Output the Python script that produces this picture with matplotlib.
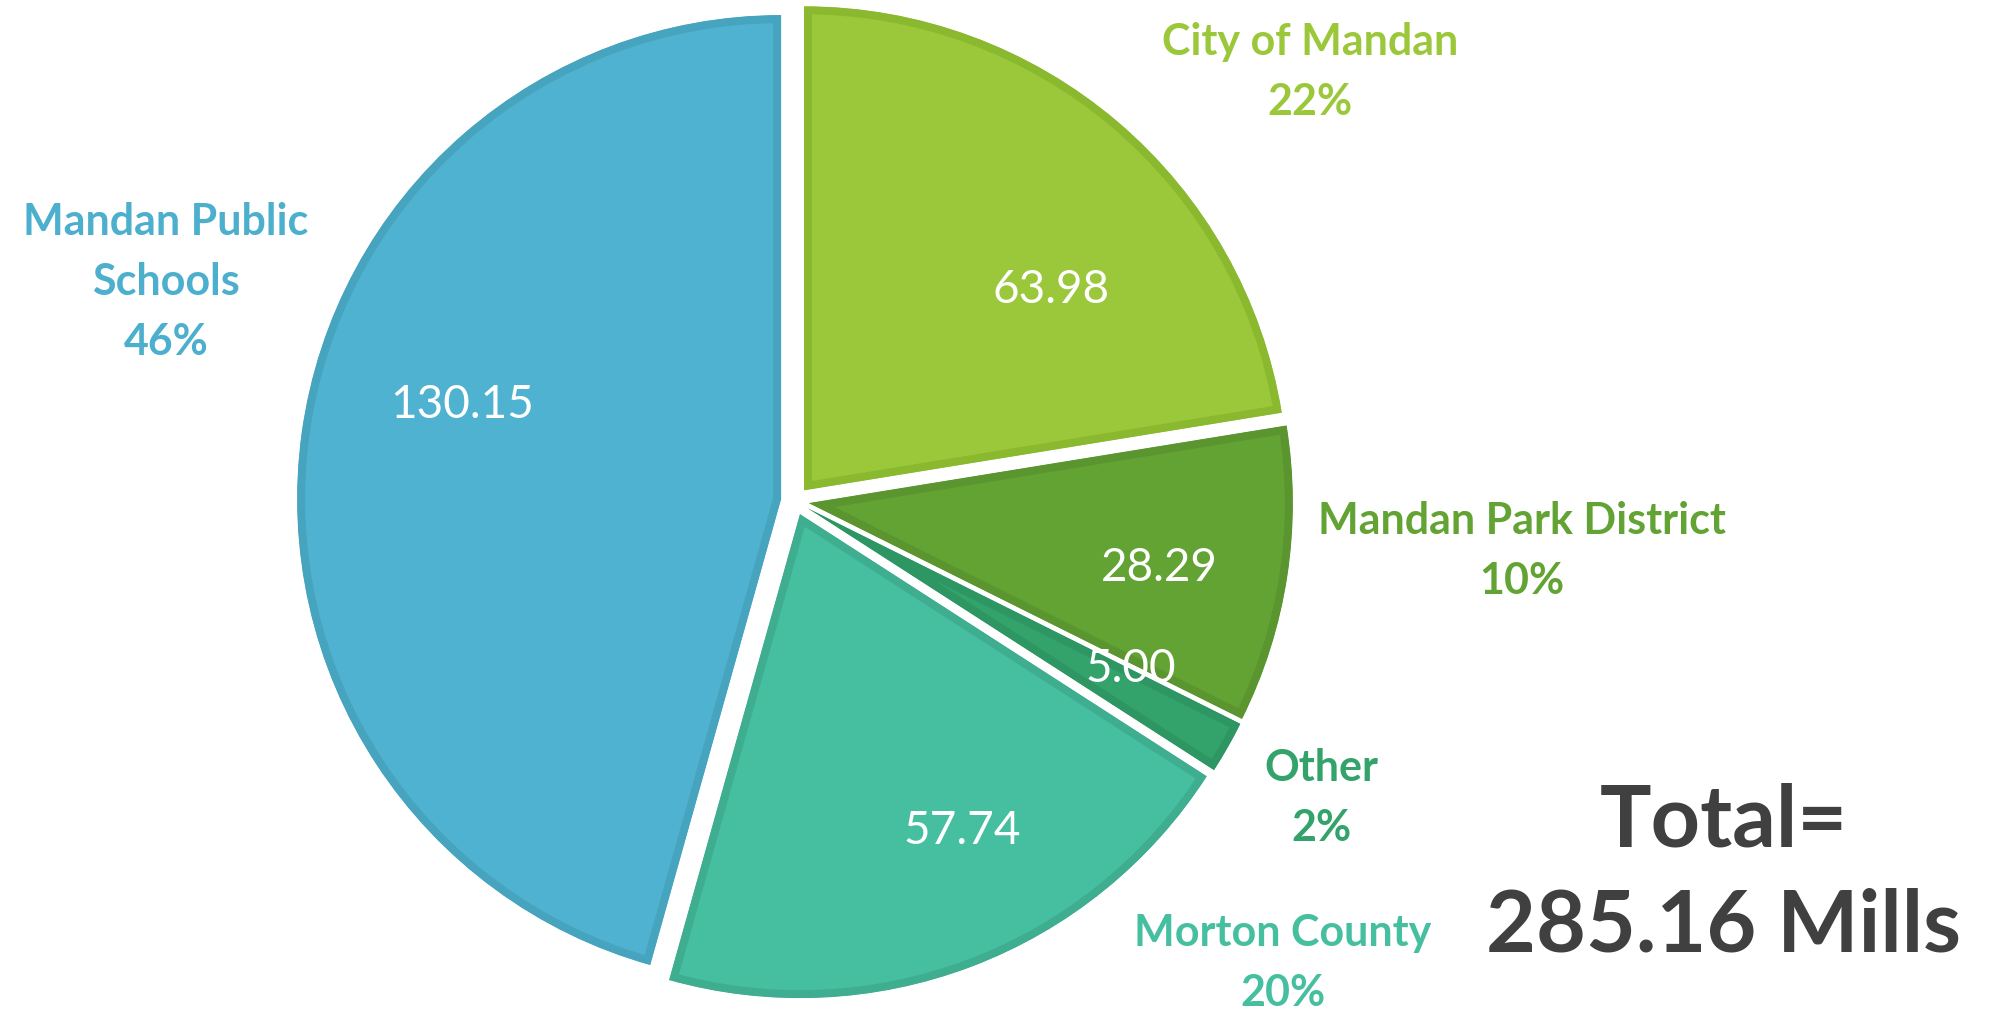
import matplotlib.pyplot as plt
import matplotlib.patches as mpatches

# 数据
names = ['City of Mandan', 'Mandan Park District', 'Other', 'Morton County', 'Mandan Public\nSchools']
mills = [63.98, 28.29, 5.00, 57.74, 130.15]
pct_text = ['22%', '10%', '2%', '20%', '46%']
total = 285.16

fills = ['#9bc83a', '#62a334', '#33a36b', '#46bfa0', '#4fb2d0']
edges = ['#8ab92f', '#5a952f', '#2e9662', '#3fad90', '#47a4bf']
name_colors = ['#9bc83a', '#62a334', '#33a36b', '#46bfa0', '#4bafcd']

# 位置 (像素, 从上往下)
H = 1010
name_pos = [(1310, 72), (1522, 551), (1321, 798), (1283, 963), (166, 282)]
value_pos = [(1051, 290), (1159, 568), (1131, 669), (962, 831), (462, 405)]

plt.rcParams['font.family'] = ['Lato', 'DejaVu Sans']

fig = plt.figure(figsize=(19.98, 10.10), dpi=100)
ax = fig.add_axes([0, 0, 1, 1])

wedges, _ = ax.pie(mills, colors=fills, startangle=90, counterclock=False,
                   explode=[14] * len(mills), radius=484, center=(795, H - 501),
                   frame=True)
for w, ec in zip(wedges, edges):
    w.set_edgecolor(ec)
    w.set_linewidth(11.5)  # 裁掉外侧一半 -> 8px 内边
    clip = mpatches.Wedge(w.center, w.r, w.theta1, w.theta2, transform=ax.transData)
    w.set_clip_on(True)  # pie 默认 clip_on=False
    w.set_clip_path(clip)

for (x, y), n, p, c in zip(name_pos, names, pct_text, name_colors):
    ax.text(x, H - y, n + '\n' + p, ha='center', va='center', color=c,
            fontsize=31, fontweight='bold', linespacing=1.6)

for (x, y), v in zip(value_pos, mills):
    ax.text(x, H - y, '%.2f' % v, ha='center', va='center', color='white', fontsize=33)

ax.text(1724, H - 822, 'Total=', ha='center', va='center', color='#404040',
        fontsize=62, fontweight='bold')
ax.text(1724, H - 927, '%.2f Mills' % total, ha='center', va='center', color='#404040',
        fontsize=62, fontweight='bold')

ax.set_xlim(0, 1998)
ax.set_ylim(0, H)
ax.set_aspect('equal')
ax.axis('off')

fig.savefig('out.png', dpi=100, facecolor='white')
